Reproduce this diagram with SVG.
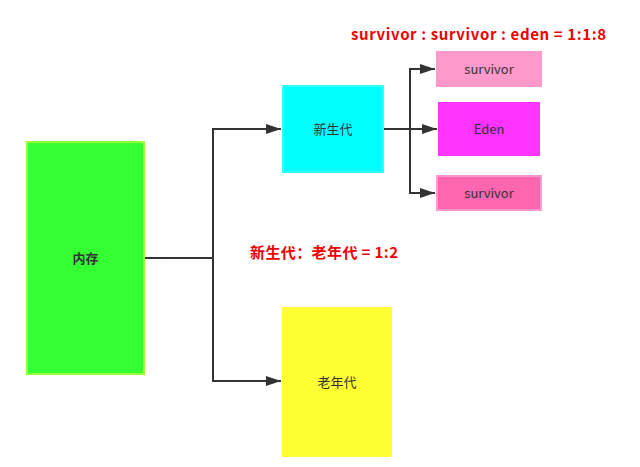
<svg xmlns="http://www.w3.org/2000/svg" width="640" height="467" viewBox="0 0 640 467">
<style>
.lbl{font-family:"Noto Sans CJK SC","Noto Sans",sans-serif;font-size:13px;fill:#333;text-anchor:middle;dominant-baseline:central}
.red{font-family:"Noto Sans CJK SC","Noto Sans",sans-serif;font-size:15px;font-weight:bold;fill:#ee0000}
.con{fill:none;stroke:#333;stroke-width:2}
</style>
<defs>
<marker id="ah" markerWidth="15" markerHeight="10" refX="15" refY="5" orient="auto" markerUnits="userSpaceOnUse">
<path d="M0,0 L15,5 L0,10 Z" fill="#333"/>
</marker>
</defs>
<rect width="640" height="467" fill="#fff"/>
<g id="connectors">
<path class="con" d="M145,258 H213"/>
<path class="con" d="M213,258 V129 H281" marker-end="url(#ah)"/>
<path class="con" d="M213,258 V381 H281" marker-end="url(#ah)"/>
<path class="con" d="M384,129 H437" marker-end="url(#ah)"/>
<path class="con" d="M410,129 V69 H435" marker-end="url(#ah)"/>
<path class="con" d="M410,129 V193 H435" marker-end="url(#ah)"/>
</g>
<g id="memory">
<rect x="27" y="142" width="117" height="232" fill="#33ff33" stroke="#99ff33" stroke-width="2"/>
<text class="lbl" x="85.5" y="257" font-weight="bold">内存</text>
</g>
<g id="young">
<rect x="283" y="86" width="100" height="86" fill="#00ffff" stroke="#33ffff" stroke-width="2"/>
<text class="lbl" x="333" y="128">新生代</text>
</g>
<g id="old">
<rect x="282" y="307" width="110" height="150" fill="#ffff33"/>
<text class="lbl" x="337" y="381">老年代</text>
</g>
<g id="survivor1">
<rect x="436" y="51" width="106" height="36" fill="#ff99cc"/>
<text class="lbl" x="489" y="68">survivor</text>
</g>
<g id="eden">
<rect x="438" y="102" width="102" height="54" fill="#ff33ff"/>
<text class="lbl" x="489" y="128">Eden</text>
</g>
<g id="survivor2">
<rect x="437" y="176" width="104" height="34" fill="#ff66b2" stroke="#ff99cc" stroke-width="2"/>
<text class="lbl" x="489" y="192">survivor</text>
</g>
<text class="red" x="351" y="40" textLength="255" lengthAdjust="spacing">survivor : survivor : eden = 1:1:8</text>
<text class="red" x="250" y="258" textLength="148" lengthAdjust="spacing">新生代：老年代 = 1:2</text>
</svg>
